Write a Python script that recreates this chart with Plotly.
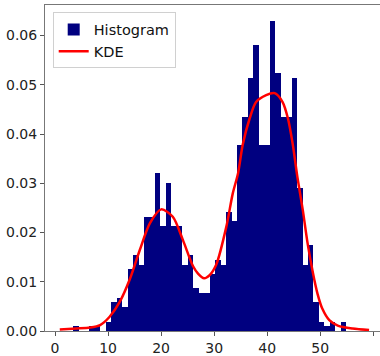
import numpy as np
import plotly.graph_objects as go

# Histogram (density) data
data_min = 3.4
data_max = 54.9
n_bins = 50
hist_density = [
    0.00097, 0.0, 0.0, 0.00097, 0.00097, 0.0, 0.0019, 0.0058, 0.0068, 0.0048,
    0.0126, 0.0155, 0.0135, 0.0232, 0.0232, 0.0320, 0.0213, 0.0300, 0.0213, 0.0213,
    0.0135, 0.0155, 0.0087, 0.0077, 0.0077, 0.0116, 0.0145, 0.0135, 0.0242, 0.0223,
    0.0377, 0.0435, 0.0513, 0.0580, 0.0377, 0.0377, 0.0630, 0.0523, 0.0435, 0.0435,
    0.0513, 0.0290, 0.0135, 0.0174, 0.0058, 0.0019, 0.00097, 0.0019, 0.0, 0.0019,
]

# KDE curve
kde_x = [0.9, 4.0, 6.6, 8.5, 10.3, 12.2, 14.1, 16.0, 17.9, 20.0, 22.2, 24.1, 26.0,
         27.0, 28.1, 29.2, 30.4, 32.3, 33.5, 34.5, 35.4, 36.7, 37.9, 39.8, 41.4,
         42.9, 43.9, 44.8, 45.7, 46.7, 47.6, 48.6, 49.5, 50.4, 51.7, 53.3, 56.1, 59.2]
kde_y = [0.0003, 0.0005, 0.0007, 0.0012, 0.0029, 0.0059, 0.0105, 0.0165, 0.0219,
         0.0247, 0.0232, 0.0185, 0.0132, 0.0116, 0.0107, 0.0114, 0.0135, 0.0212,
         0.0279, 0.0320, 0.0379, 0.0432, 0.0465, 0.0479, 0.0483, 0.0465, 0.0432,
         0.0380, 0.0312, 0.0246, 0.0179, 0.0119, 0.0075, 0.0045, 0.0022, 0.0011,
         0.0005, 0.0002]

x_ticks = [0, 10, 20, 30, 40, 50, 60]
y_ticks = [0.00, 0.01, 0.02, 0.03, 0.04, 0.05, 0.06]

edges = np.linspace(data_min, data_max, n_bins + 1)
centers = (edges[:-1] + edges[1:]) / 2
widths = np.diff(edges)

fig = go.Figure()
fig.add_trace(go.Bar(
    x=centers, y=hist_density, width=widths, name="Histogram",
    marker=dict(color="#000080", line=dict(width=0)),
))
fig.add_trace(go.Scatter(
    x=kde_x, y=kde_y, mode="lines", name="KDE",
    line=dict(color="#ff0000", width=2.5, shape="spline", smoothing=0.8),
))

font = dict(family="DejaVu Sans", size=14, color="#222222")
fig.update_layout(
    width=380, height=356,
    margin=dict(l=45, r=0, t=5, b=20),
    plot_bgcolor="white", paper_bgcolor="white",
    bargap=0, font=font, showlegend=True,
    legend=dict(x=0.023, y=0.977, xanchor="left", yanchor="top",
                bgcolor="white", bordercolor="#d0d0d0", borderwidth=1,
                font=dict(family="DejaVu Sans", size=14.5, color="#111111"),
                tracegroupgap=0),
)
fig.update_xaxes(
    range=[-1.885, 61.26], tickvals=x_ticks, ticktext=[str(v) for v in x_ticks],
    showgrid=False, zeroline=False, showline=True, linecolor="#777777", linewidth=1,
    mirror=True, ticks="outside", ticklen=4, tickcolor="#555555",
)
fig.update_yaxes(
    range=[0, 0.0662], tickvals=y_ticks, ticktext=[f"{v:.2f}" for v in y_ticks],
    showgrid=False, zeroline=False, showline=True, linecolor="#777777", linewidth=1,
    ticks="outside", ticklen=4, tickcolor="#555555",
)
fig.write_html("out.html")
